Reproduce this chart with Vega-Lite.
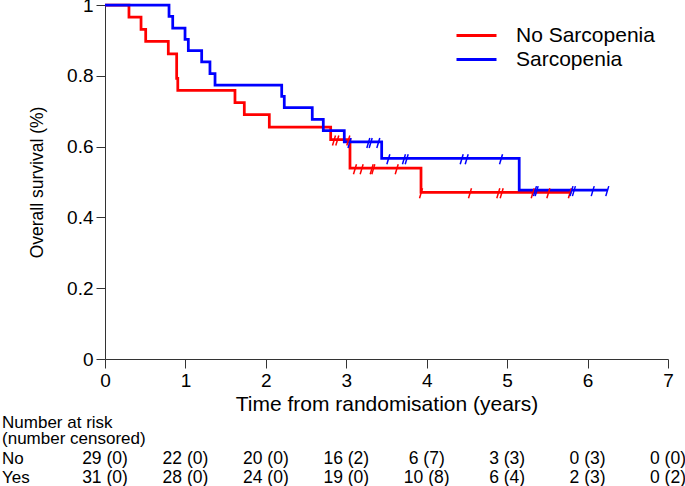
{
  "$schema": "https://vega.github.io/schema/vega-lite/v6.json",
  "autosize": {"type": "none"},
  "width": 563,
  "height": 354,
  "padding": {"left": 105, "top": 5, "right": 17, "bottom": 127},
  "config": {
    "font": "Liberation Sans",
    "view": {"stroke": null},
    "axis": {"domainColor": "#333", "tickColor": "#333", "labelColor": "#000", "titleColor": "#000", "labelFont": "Liberation Sans", "titleFont": "Liberation Sans", "titleFontWeight": "normal", "grid": false, "labelFlush": false, "labelOverlap": false}
  },
  "datasets": {
    "surv": [
      {"group": "No Sarcopenia", "time": 0, "surv": 1},
      {"group": "No Sarcopenia", "time": 0.298, "surv": 0.966},
      {"group": "No Sarcopenia", "time": 0.448, "surv": 0.931},
      {"group": "No Sarcopenia", "time": 0.506, "surv": 0.897},
      {"group": "No Sarcopenia", "time": 0.787, "surv": 0.862},
      {"group": "No Sarcopenia", "time": 0.891, "surv": 0.793},
      {"group": "No Sarcopenia", "time": 0.905, "surv": 0.759},
      {"group": "No Sarcopenia", "time": 1.616, "surv": 0.724},
      {"group": "No Sarcopenia", "time": 1.732, "surv": 0.69},
      {"group": "No Sarcopenia", "time": 2.043, "surv": 0.655},
      {"group": "No Sarcopenia", "time": 2.806, "surv": 0.62},
      {"group": "No Sarcopenia", "time": 3.046, "surv": 0.539},
      {"group": "No Sarcopenia", "time": 3.929, "surv": 0.471},
      {"group": "No Sarcopenia", "time": 5.8, "surv": 0.471},
      {"group": "Sarcopenia", "time": 0, "surv": 1},
      {"group": "Sarcopenia", "time": 0.796, "surv": 0.968},
      {"group": "Sarcopenia", "time": 0.842, "surv": 0.935},
      {"group": "Sarcopenia", "time": 0.995, "surv": 0.903},
      {"group": "Sarcopenia", "time": 1.036, "surv": 0.871},
      {"group": "Sarcopenia", "time": 1.202, "surv": 0.839},
      {"group": "Sarcopenia", "time": 1.305, "surv": 0.806},
      {"group": "Sarcopenia", "time": 1.368, "surv": 0.774},
      {"group": "Sarcopenia", "time": 2.197, "surv": 0.742},
      {"group": "Sarcopenia", "time": 2.229, "surv": 0.71},
      {"group": "Sarcopenia", "time": 2.577, "surv": 0.677},
      {"group": "Sarcopenia", "time": 2.714, "surv": 0.645},
      {"group": "Sarcopenia", "time": 2.975, "surv": 0.613},
      {"group": "Sarcopenia", "time": 3.44, "surv": 0.567},
      {"group": "Sarcopenia", "time": 5.15, "surv": 0.477},
      {"group": "Sarcopenia", "time": 6.245, "surv": 0.477}
    ],
    "cens": [
      {"group": "No Sarcopenia", "time": 2.847, "surv": 0.62},
      {"group": "No Sarcopenia", "time": 2.888, "surv": 0.62},
      {"group": "No Sarcopenia", "time": 3.025, "surv": 0.62},
      {"group": "No Sarcopenia", "time": 3.108, "surv": 0.539},
      {"group": "No Sarcopenia", "time": 3.191, "surv": 0.539},
      {"group": "No Sarcopenia", "time": 3.316, "surv": 0.539},
      {"group": "No Sarcopenia", "time": 3.336, "surv": 0.539},
      {"group": "No Sarcopenia", "time": 3.627, "surv": 0.539},
      {"group": "No Sarcopenia", "time": 3.929, "surv": 0.471},
      {"group": "No Sarcopenia", "time": 4.538, "surv": 0.471},
      {"group": "No Sarcopenia", "time": 4.89, "surv": 0.471},
      {"group": "No Sarcopenia", "time": 4.932, "surv": 0.471},
      {"group": "No Sarcopenia", "time": 5.318, "surv": 0.471},
      {"group": "No Sarcopenia", "time": 5.512, "surv": 0.471},
      {"group": "No Sarcopenia", "time": 5.78, "surv": 0.471},
      {"group": "Sarcopenia", "time": 3.04, "surv": 0.613},
      {"group": "Sarcopenia", "time": 3.274, "surv": 0.613},
      {"group": "Sarcopenia", "time": 3.303, "surv": 0.613},
      {"group": "Sarcopenia", "time": 3.398, "surv": 0.613},
      {"group": "Sarcopenia", "time": 3.523, "surv": 0.567},
      {"group": "Sarcopenia", "time": 3.717, "surv": 0.567},
      {"group": "Sarcopenia", "time": 3.751, "surv": 0.567},
      {"group": "Sarcopenia", "time": 4.435, "surv": 0.567},
      {"group": "Sarcopenia", "time": 4.497, "surv": 0.567},
      {"group": "Sarcopenia", "time": 4.924, "surv": 0.567},
      {"group": "Sarcopenia", "time": 5.346, "surv": 0.477},
      {"group": "Sarcopenia", "time": 5.367, "surv": 0.477},
      {"group": "Sarcopenia", "time": 5.8, "surv": 0.477},
      {"group": "Sarcopenia", "time": 5.83, "surv": 0.477},
      {"group": "Sarcopenia", "time": 6.064, "surv": 0.477},
      {"group": "Sarcopenia", "time": 6.245, "surv": 0.477}
    ],
    "risk": [
      {"line": 2, "time": 0, "label": "29 (0)"},
      {"line": 2, "time": 1, "label": "22 (0)"},
      {"line": 2, "time": 2, "label": "20 (0)"},
      {"line": 2, "time": 3, "label": "16 (2)"},
      {"line": 2, "time": 4, "label": "6 (7)"},
      {"line": 2, "time": 5, "label": "3 (3)"},
      {"line": 2, "time": 6, "label": "0 (3)"},
      {"line": 2, "time": 7, "label": "0 (0)"},
      {"line": 3, "time": 0, "label": "31 (0)"},
      {"line": 3, "time": 1, "label": "28 (0)"},
      {"line": 3, "time": 2, "label": "24 (0)"},
      {"line": 3, "time": 3, "label": "19 (0)"},
      {"line": 3, "time": 4, "label": "10 (8)"},
      {"line": 3, "time": 5, "label": "6 (4)"},
      {"line": 3, "time": 6, "label": "2 (3)"},
      {"line": 3, "time": 7, "label": "0 (2)"}
    ],
    "rowlab": [
      {"line": 0.05, "label": "Number at risk"},
      {"line": 0.93, "label": "(number censored)"},
      {"line": 2, "label": "No"},
      {"line": 3, "label": "Yes"}
    ]
  },
  "layer": [
    {
      "layer": [
        {
          "data": {"name": "surv"},
          "mark": {"type": "line", "interpolate": "step-after", "strokeWidth": 2.75},
          "encoding": {
            "x": {"field": "time", "type": "quantitative", "scale": {"domain": [0, 7], "nice": false},
              "axis": {"values": [0, 1, 2, 3, 4, 5, 6, 7], "format": "~g", "title": "Time from randomisation (years)", "tickSize": 9, "labelFontSize": 19, "labelPadding": 3, "titleFontSize": 21, "titlePadding": 3}},
            "y": {"field": "surv", "type": "quantitative", "scale": {"domain": [0, 1], "nice": false},
              "axis": {"values": [0, 0.2, 0.4, 0.6, 0.8, 1], "format": "~g", "title": "Overall survival (%)", "tickSize": 9, "labelFontSize": 19, "labelPadding": 3, "titleFontSize": 17.5, "titlePadding": 20}},
            "color": {"field": "group", "type": "nominal",
              "scale": {"domain": ["No Sarcopenia", "Sarcopenia"], "range": ["#ff0000", "#0000ff"]},
              "legend": {"orient": "none", "legendX": 360, "legendY": 19, "title": null, "symbolType": "M-2,0H2", "symbolSize": 400, "symbolStrokeWidth": 3, "labelFontSize": 21, "labelOffset": 28, "rowPadding": 2, "padding": 0, "labelColor": "#000", "labelFont": "Liberation Sans"}}
          }
        },
        {
          "data": {"name": "cens"},
          "mark": {"type": "point", "shape": "M0.3,-0.8L-0.3,1.2", "size": 100, "strokeWidth": 1.5, "filled": false, "opacity": 1},
          "encoding": {
            "x": {"field": "time", "type": "quantitative"},
            "y": {"field": "surv", "type": "quantitative"},
            "color": {"field": "group", "type": "nominal"}
          }
        }
      ]
    },
    {
      "layer": [
        {
          "data": {"name": "risk"},
          "mark": {"type": "text", "fontSize": 17.5, "align": "center", "baseline": "alphabetic", "color": "#000"},
          "encoding": {
            "x": {"field": "time", "type": "quantitative"},
            "y": {"field": "line", "type": "quantitative", "scale": {"domain": [0, 3], "range": [422, 477.7]}, "axis": null},
            "text": {"field": "label"}
          }
        },
        {
          "data": {"name": "rowlab"},
          "mark": {"type": "text", "fontSize": 17, "align": "left", "baseline": "alphabetic", "color": "#000"},
          "encoding": {
            "x": {"datum": -1.28, "type": "quantitative"},
            "y": {"field": "line", "type": "quantitative"},
            "text": {"field": "label"}
          }
        }
      ]
    }
  ],
  "resolve": {"scale": {"y": "independent"}}
}
